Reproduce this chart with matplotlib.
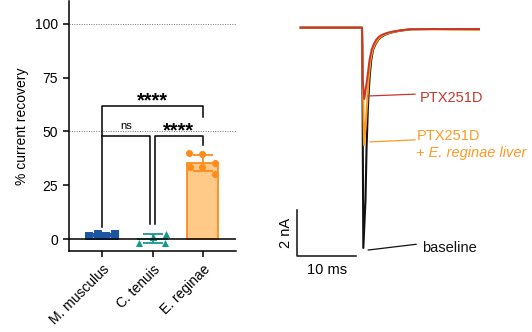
import numpy as np
import matplotlib.pyplot as plt

plt.rcParams['font.family'] = ['Liberation Sans', 'DejaVu Sans']

# ---- left panel: % current recovery per species ----
species = ['M. musculus', 'C. tenuis', 'E. reginae']
recovery = [
    [1.4, 2.6, 1.4, 2.3],
    [-2.0, 0.8, 2.6, -1.8, 1.2],
    [40.0, 39.4, 35.3, 33.6, 33.6, 30.4],
]
# horizontal spread of the dots around each bar (swarm layout)
x_offsets = [
    [-0.27, -0.09, 0.08, 0.25],
    [-0.26, 0.0, 0.26, 0.24, 0.0],
    [-0.27, -0.01, 0.24, -0.25, -0.01, 0.25],
]
edge_cols = ['#1d56a0', '#17998a', '#ff8c1a']
fill_cols = ['#8fb1dc', '#8fd3c9', '#ffc987']
markers = ['s', '^', 'o']

# ---- right panel: current traces (ms, nA) ----
black_t = [-10.4, -5.0, 0.0, 0.05, 0.22, 0.59, 0.76, 0.98, 1.15, 1.32, 1.56, 1.86,
           2.25, 2.71, 3.25, 3.81, 4.6, 5.51, 6.8, 8.39, 12.0, 19.8]
black_i = [0.0, 0.0, 0.0, -1.0, -9.64, -7.54, -5.35, -3.60, -2.73, -2.07, -1.41, -0.98,
           -0.74, -0.54, -0.41, -0.32, -0.24, -0.18, -0.12, -0.07, -0.06, -0.07]
orange_t = [-10.4, -5.0, 0.0, 0.05, 0.34, 0.68, 0.90, 1.10, 1.44, 1.78, 2.15, 2.63, 3.1,
            3.64, 4.45, 5.34, 6.7, 8.31, 12.0, 19.8]
orange_i = [0.0, 0.0, 0.0, -0.8, -5.14, -4.04, -3.16, -2.29, -1.41, -0.98, -0.74, -0.54,
            -0.41, -0.32, -0.24, -0.18, -0.12, -0.07, -0.07, -0.09]
red_t = [-10.4, -5.0, 0.0, 0.12, 0.39, 0.85, 1.27, 1.61, 1.95, 2.37, 2.8, 3.31, 4.1, 5.0,
         6.4, 8.19, 12.0, 19.8]
red_i = [0.0, 0.0, 0.0, -2.29, -3.12, -2.29, -1.41, -0.98, -0.74, -0.54, -0.41, -0.32,
         -0.24, -0.18, -0.12, -0.07, -0.06, -0.06]

fig = plt.figure(figsize=(5.32, 3.32), dpi=100)

ax = fig.add_axes([0.1297, 0.244, 0.314, 0.753])
pos = np.arange(len(species))
means = [np.mean(v) for v in recovery]
sds = [np.std(v, ddof=1) for v in recovery]

ax.axhline(50, color='0.45', lw=0.7, ls=(0, (1, 1.5)), zorder=0)
ax.axhline(100, color='0.45', lw=0.7, ls=(0, (1, 1.5)), zorder=0)
ax.bar(pos, means, width=0.62, color=fill_cols, edgecolor=edge_cols, linewidth=1.3, zorder=2)
for i in range(len(species)):
    ax.errorbar(pos[i], means[i], yerr=sds[i], fmt='none', ecolor=edge_cols[i],
                capsize=7.5, elinewidth=1.3, capthick=1.3, zorder=3)
    ax.scatter(pos[i] + np.array(x_offsets[i]), recovery[i], marker=markers[i], s=26,
               color=edge_cols[i], zorder=4, linewidths=0)
ax.axhline(0, color='black', lw=1.1, zorder=5)

# significance brackets
ax.plot([0, 0, 2, 2], [5.6, 62, 62, 56.9], color='black', lw=1.1)
ax.plot([0, 0.94, 0.94], [47.7, 47.7, 6.9], color='black', lw=1.1)
ax.plot([1.04, 1.04, 2, 2], [6.9, 47.7, 47.7, 43.9], color='black', lw=1.1)
ax.text(1.0, 64, '****', ha='center', va='center', fontsize=14.5, fontweight='bold')
ax.text(0.47, 52.5, 'ns', ha='center', va='center', fontsize=8)
ax.text(1.52, 50, '****', ha='center', va='center', fontsize=14.5, fontweight='bold')

ax.set_xlim(-0.66, 2.66)
ax.set_ylim(-5.5, 110.5)
ax.set_yticks([0, 25, 50, 75, 100])
ax.set_xticks(pos)
ax.set_xticklabels(species, rotation=45, ha='right', rotation_mode='anchor')
ax.set_ylabel('% current recovery', fontsize=10)
ax.tick_params(labelsize=10, width=1.1, length=4.5)
for s in ['top', 'right']:
    ax.spines[s].set_visible(False)
for s in ['left', 'bottom']:
    ax.spines[s].set_linewidth(1.1)

# ---- traces ----
ax2 = fig.add_axes([0.5263, 0.1265, 0.470, 0.8735])
ax2.plot(black_t, black_i, color='#111111', lw=1.5)
ax2.plot(orange_t, orange_i, color='#ff9a22', lw=1.5)
ax2.plot(red_t, red_i, color='#c8372d', lw=1.4)

# labels with leader lines
ax2.plot([1.02, 8.98], [-2.99, -2.91], color='#c8372d', lw=0.9)
ax2.text(9.8, -3.08, 'PTX251D', color='#c8372d', fontsize=10.5, va='center')
ax2.plot([1.36, 8.98], [-5.0, -4.91], color='#ff9a22', lw=0.9)
ax2.text(9.2, -4.74, 'PTX251D', color='#ff9a22', fontsize=10.5, va='center')
ax2.text(9.2, -5.49, '+ E. reginae liver', color='#ff9a22', fontsize=10.5, va='center',
         style='italic')
ax2.plot([1.07, 9.15], [-9.73, -9.48], color='#111111', lw=0.9)
ax2.text(10.1, -9.64, 'baseline', color='#111111', fontsize=10.5, va='center')

# scale bar
ax2.plot([-11, -11, -1], [-8, -10, -10], color='#111111', lw=1.1)
ax2.text(-6, -10.3, '10 ms', ha='center', va='top', fontsize=10.5)
ax2.text(-12.9, -9, '2 nA', ha='center', va='center', rotation=90, fontsize=10.5)

ax2.set_xlim(-13.9, 28.47)
ax2.set_ylim(-11.48, 1.21)
ax2.set_axis_off()

fig.savefig('out.png', dpi=100)
